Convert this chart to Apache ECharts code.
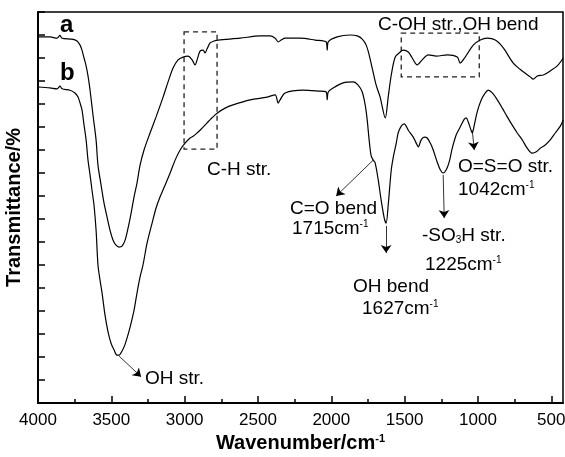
<!DOCTYPE html>
<html>
<head>
<meta charset="utf-8">
<script src="https://cdn.jsdelivr.net/npm/echarts@6/dist/echarts.min.js"></script>
<style>
  html, body { margin: 0; padding: 0; background: #fff; }
  #chart { width: 565px; height: 457px; }
</style>
</head>
<body>
<div id="chart"></div>
<script>
  // spectrum a
  var waveA = [4000, 3918, 3870, 3850, 3836, 3768, 3734, 3713, 3700, 3686, 3672, 3659, 3645, 3625, 3604, 3591, 3570, 3550, 3529, 3509, 3488, 3468,
    3447, 3427, 3406, 3386, 3365, 3345, 3325, 3304, 3277, 3236, 3195, 3147, 3113, 3079, 3045, 3011, 2977, 2949, 2929, 2915,
    2895, 2874, 2861, 2847, 2826, 2799, 2772, 2622, 2485, 2417, 2383, 2362, 2342, 2315, 2212, 2110, 2035, 2028, 2021, 1960,
    1871, 1823, 1789, 1762, 1742, 1721, 1694, 1667, 1632, 1612, 1591, 1564, 1530, 1510, 1475, 1448, 1414, 1380, 1339, 1284,
    1209, 1141, 1121, 1087, 1032, 984, 937, 882, 827, 759, 691, 643, 623, 595, 554, 507, 459, 418]
  var transA = [79.6, 79.6, 79.3, 79.9, 79.3, 79.1, 78.7, 77.8, 76.7, 75.0, 73.3, 71.1, 68.0, 62.6, 57.2, 51.7, 47.4, 43.5, 40.4, 37.6, 35.4, 34.3,
    33.9, 34.1, 35.4, 38.0, 41.3, 44.8, 47.8, 51.7, 55.0, 58.7, 62.2, 66.5, 69.8, 72.8, 74.6, 75.2, 75.4, 74.6, 73.5, 74.6,
    76.5, 76.7, 76.1, 77.0, 78.3, 78.7, 78.9, 79.3, 79.8, 79.8, 79.3, 78.5, 78.9, 79.3, 79.3, 78.9, 78.5, 76.7, 78.5, 79.6,
    80.0, 79.8, 79.1, 77.8, 75.7, 72.8, 69.1, 66.5, 62.0, 66.5, 71.3, 75.2, 76.3, 76.7, 76.3, 75.0, 73.5, 74.6, 75.7, 75.4,
    75.7, 75.2, 73.9, 75.2, 77.8, 78.9, 79.3, 78.9, 77.2, 73.9, 72.0, 70.9, 70.4, 71.1, 71.3, 72.2, 73.3, 75.0]

  // spectrum b
  var waveB = [4000, 3918, 3870, 3850, 3836, 3782, 3748, 3727, 3713, 3700, 3686, 3672, 3659, 3645, 3632, 3618, 3604, 3591, 3577, 3563, 3543, 3522,
    3502, 3481, 3461, 3447, 3434, 3413, 3393, 3372, 3345, 3325, 3304, 3284, 3256, 3222, 3195, 3168, 3133, 3099, 3065, 3031,
    2997, 2963, 2942, 2922, 2895, 2847, 2813, 2779, 2724, 2670, 2554, 2437, 2383, 2362, 2349, 2315, 2192, 2090, 2035, 2028,
    2021, 1987, 1919, 1851, 1817, 1789, 1769, 1755, 1742, 1728, 1714, 1701, 1680, 1660, 1639, 1626, 1612, 1591, 1578, 1557,
    1544, 1523, 1503, 1475, 1441, 1421, 1407, 1387, 1366, 1346, 1325, 1305, 1278, 1257, 1237, 1216, 1196, 1175, 1148, 1121,
    1093, 1080, 1066, 1052, 1039, 1025, 1005, 977, 950, 930, 902, 868, 834, 800, 766, 732, 698, 664, 629, 602,
    575, 541, 507, 473, 438, 418]
  var transB = [68.7, 68.5, 68.3, 68.9, 68.3, 68.0, 67.4, 66.5, 65.2, 63.7, 60.4, 57.2, 52.8, 49.6, 46.3, 43.0, 37.6, 30.0, 26.7, 23.9, 19.1, 15.4,
    13.0, 11.5, 10.4, 10.4, 10.9, 12.2, 14.1, 16.5, 20.2, 23.9, 27.4, 30.0, 34.8, 39.1, 42.4, 44.8, 47.4, 50.0, 52.8, 55.0,
    56.5, 57.6, 58.0, 58.5, 59.3, 60.9, 62.0, 63.0, 64.1, 64.8, 65.9, 66.5, 67.0, 65.2, 65.9, 67.4, 68.0, 67.8, 67.6, 65.9,
    67.6, 68.5, 69.6, 69.8, 69.1, 67.6, 64.8, 61.5, 57.2, 53.7, 52.8, 52.2, 48.5, 44.1, 40.2, 39.1, 43.0, 50.7, 53.3, 56.5,
    58.7, 60.2, 60.7, 59.3, 57.8, 56.5, 55.7, 57.2, 57.8, 57.6, 56.5, 55.0, 52.4, 50.7, 50.0, 50.7, 52.4, 55.4, 58.3, 60.0,
    61.7, 62.0, 61.1, 59.8, 58.7, 60.4, 63.3, 65.9, 67.4, 68.0, 67.4, 65.9, 64.1, 62.2, 60.4, 58.7, 57.2, 55.4, 54.3, 54.6,
    55.4, 56.1, 57.2, 58.7, 60.2, 61.5]

  var majorTicks = [4000, 3500, 3000, 2500, 2000, 1500, 1000, 500]
  var minorTicks = [3750, 3250, 2750, 2250, 1750, 1250, 750]

  var font = '"Liberation Sans", Arial, sans-serif'

  function zip(xs, ys) {
    var out = []
    for (var i = 0; i < xs.length; i++) out.push([xs[i], ys[i]])
    return out
  }

  var chart = echarts.init(document.getElementById('chart'))

  function label(text, x, y, extra) {
    var st = {
      text: text, x: x, y: y,
      fill: '#000',
      font: '19px ' + font,
      verticalAlign: 'middle',
      rich: {
        sup: { fontSize: 10, fontFamily: font, verticalAlign: 'top', fill: '#000' },
        sub: { fontSize: 10, fontFamily: font, verticalAlign: 'bottom', fill: '#000' }
      }
    }
    if (extra) for (var k in extra) st[k] = extra[k]
    return { type: 'text', z: 100, style: st }
  }

  var option = {
    animation: false,
    backgroundColor: '#fff',
    grid: {
      left: 38, right: 2, top: 12, bottom: 54,
      outerBoundsMode: 'none',
      containLabel: false,
      show: true, borderColor: '#000', borderWidth: 1.5
    },
    xAxis: [{
      type: 'value',
      inverse: true,
      min: 420, max: 4000,
      name: 'Wavenumber/cm{sup|-1}',
      nameLocation: 'middle',
      nameGap: 27,
      nameTextStyle: {
        fontFamily: font, fontSize: 20, fontWeight: 'bold', color: '#000',
        rich: { sup: { fontFamily: font, fontSize: 11, fontWeight: 'bold', verticalAlign: 'top', color: '#000' } }
      },
      axisLine: { lineStyle: { color: '#000', width: 2 } },
      axisTick: { inside: true, length: 7, lineStyle: { color: '#000', width: 1.5 }, customValues: majorTicks },
      axisLabel: {
        customValues: majorTicks, color: '#000', fontFamily: font, fontSize: 17, margin: 9,
        formatter: function (v) { return String(v) }
      },
      splitLine: { show: false }
    }, {
      type: 'value',
      inverse: true,
      min: 420, max: 4000,
      position: 'bottom',
      axisLine: { show: false },
      axisTick: { inside: true, length: 4, lineStyle: { color: '#000', width: 1.5 }, customValues: minorTicks },
      axisLabel: { show: false },
      splitLine: { show: false }
    }],
    yAxis: {
      type: 'value',
      min: 0, max: 85, interval: 5,
      name: 'Transmittance/%',
      nameLocation: 'middle',
      nameGap: 14,
      nameTextStyle: { fontFamily: font, fontSize: 20, fontWeight: 'bold', color: '#000' },
      axisLine: { lineStyle: { color: '#000', width: 2 } },
      axisTick: { inside: true, length: 7, lineStyle: { color: '#000', width: 1.5 } },
      axisLabel: { show: false },
      splitLine: { show: false }
    },
    series: [{
      name: 'a',
      type: 'line',
      data: zip(waveA, transA),
      symbol: 'none',
      smooth: 0.3,
      lineStyle: { color: '#000', width: 1.2 },
      markArea: {
        silent: true,
        itemStyle: { color: 'rgba(0,0,0,0)', borderColor: '#222', borderWidth: 1.3, borderType: [5, 4] },
        data: [
          [{ coord: [3004, 80.7] }, { coord: [2779, 55.2] }],
          [{ coord: [1523, 80.4] }, { coord: [991, 70.9] }]
        ]
      },
      markLine: {
        silent: true,
        symbol: ['none', 'arrow'],
        symbolSize: 8,
        label: { show: false },
        lineStyle: { color: '#000', width: 0.8, type: 'solid' },
        data: [
          [{ coord: [1714, 52.8] }, { coord: [1967, 45.0] }],
          [{ coord: [1626, 38.5] }, { coord: [1626, 32.6] }],
          [{ coord: [1237, 49.6] }, { coord: [1230, 40.2] }],
          [{ coord: [1039, 59.3] }, { coord: [1025, 55.0] }],
          [{ coord: [3447, 10.2] }, { coord: [3297, 5.7] }]
        ]
      }
    }, {
      name: 'b',
      type: 'line',
      data: zip(waveB, transB),
      symbol: 'none',
      smooth: 0.3,
      lineStyle: { color: '#000', width: 1.2 }
    }],
    graphic: [
      label('a', 60, 25, { font: 'bold 24px ' + font }),
      label('b', 60, 73, { font: 'bold 24px ' + font }),
      label('C-H str.', 207, 170),
      label('C-OH str.,OH bend', 378, 25),
      label('C=O bend', 290, 209),
      label('1715cm{sup|-1}', 292, 229),
      label('OH bend', 353, 287),
      label('1627cm{sup|-1}', 362, 309),
      label('-SO{sub|3}H str.', 422, 236),
      label('1225cm{sup|-1}', 425, 265),
      label('O=S=O str.', 458, 167),
      label('1042cm{sup|-1}', 458, 190),
      label('OH str.', 145, 379)
    ]
  }

  chart.setOption(option)
</script>
</body>
</html>
